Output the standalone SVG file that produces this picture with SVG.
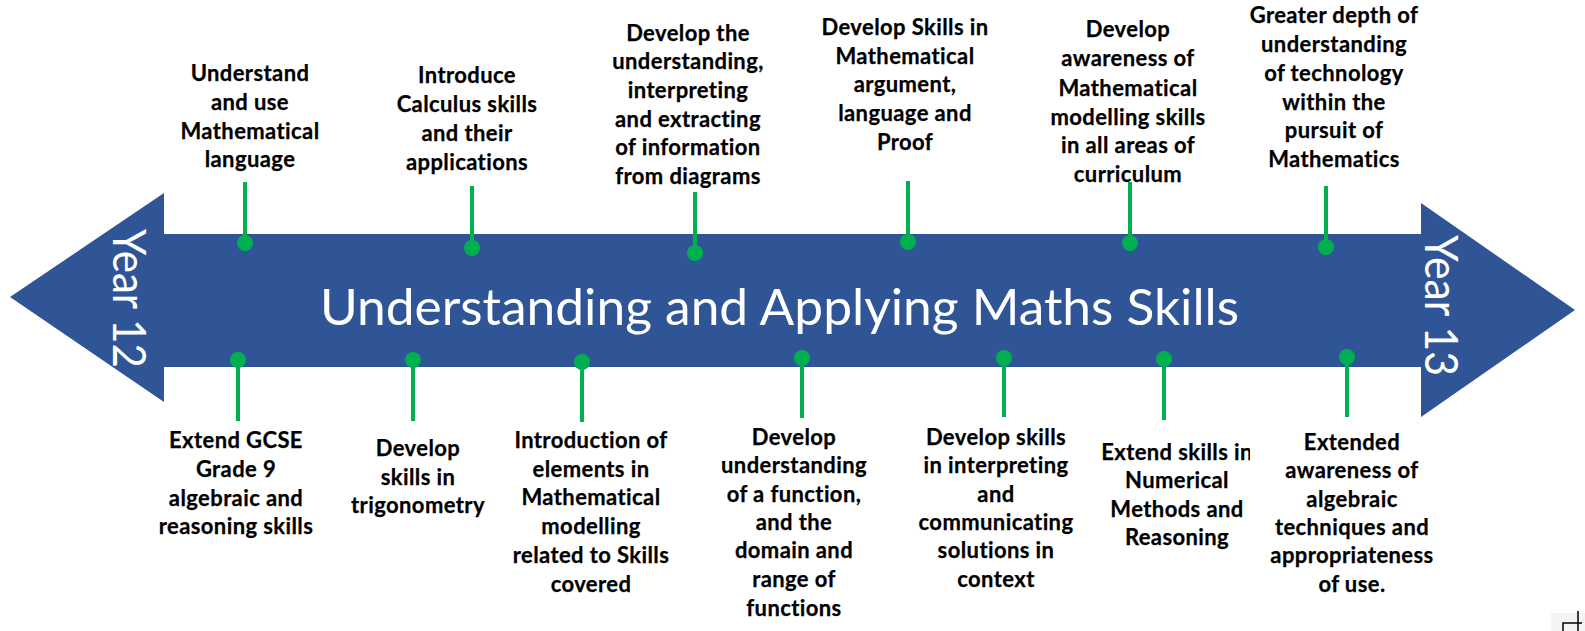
<svg xmlns="http://www.w3.org/2000/svg" width="1585" height="631" viewBox="0 0 1585 631">
<style>
.lbl{font-family:Lato,"Liberation Sans",sans-serif;font-weight:700;font-size:22px;letter-spacing:0.4px;fill:#000;stroke:#000;stroke-width:0.25;text-anchor:middle}
.title{font-family:Lato,"Liberation Sans",sans-serif;font-size:50px;fill:#fff}
.yr{font-family:Lato,"Liberation Sans",sans-serif;font-size:46px;fill:#fff}
.stem{stroke:#00B050;stroke-width:4;fill:none}
.dot{fill:#00B050}
</style>
<defs>
<clipPath id="clip6"><rect x="1090" y="430" width="160" height="130"/></clipPath>
</defs>
<rect width="1585" height="631" fill="#fff"/>
<g id="arrow">
<polygon points="10,297 164,193 164,234 1421,234 1421,203 1575,310 1421,417 1421,367 164,367 164,402" fill="#2F5597"/>
<text class="title" x="320" y="325" textLength="919" lengthAdjust="spacingAndGlyphs">Understanding and Applying Maths Skills</text>
<text class="yr" transform="translate(113,229) rotate(90)" textLength="139" lengthAdjust="spacingAndGlyphs">Year 12</text>
<text class="yr" transform="translate(1425,235) rotate(90)" textLength="141" lengthAdjust="spacingAndGlyphs">Year 13</text>
</g>
<g id="connectors">
<line class="stem" x1="245" y1="182" x2="245" y2="243"/>
<line class="stem" x1="472" y1="186" x2="472" y2="248"/>
<line class="stem" x1="695" y1="192" x2="695" y2="253"/>
<line class="stem" x1="908" y1="181" x2="908" y2="242"/>
<line class="stem" x1="1130" y1="182" x2="1130" y2="243"/>
<line class="stem" x1="1326" y1="186" x2="1326" y2="247"/>
<line class="stem" x1="238" y1="360" x2="238" y2="421"/>
<line class="stem" x1="413" y1="360" x2="413" y2="421"/>
<line class="stem" x1="582" y1="362" x2="582" y2="422"/>
<line class="stem" x1="802" y1="358" x2="802" y2="418"/>
<line class="stem" x1="1004" y1="358" x2="1004" y2="417"/>
<line class="stem" x1="1164" y1="359" x2="1164" y2="420"/>
<line class="stem" x1="1347" y1="357" x2="1347" y2="417"/>
<circle class="dot" cx="245" cy="243" r="8"/>
<circle class="dot" cx="472" cy="248" r="8"/>
<circle class="dot" cx="695" cy="253" r="8"/>
<circle class="dot" cx="908" cy="242" r="8"/>
<circle class="dot" cx="1130" cy="243" r="8"/>
<circle class="dot" cx="1326" cy="247" r="8"/>
<circle class="dot" cx="238" cy="360" r="8"/>
<circle class="dot" cx="413" cy="360" r="8"/>
<circle class="dot" cx="582" cy="362" r="8"/>
<circle class="dot" cx="802" cy="358" r="8"/>
<circle class="dot" cx="1004" cy="358" r="8"/>
<circle class="dot" cx="1164" cy="359" r="8"/>
<circle class="dot" cx="1347" cy="357" r="8"/>
</g>
<g id="top1"><text class="lbl"><tspan x="250" y="81">Understand</tspan><tspan x="250" y="110">and use</tspan><tspan x="250" y="139">Mathematical</tspan><tspan x="250" y="167">language</tspan></text></g>
<g id="top2"><text class="lbl"><tspan x="467" y="83">Introduce</tspan><tspan x="467" y="112">Calculus skills</tspan><tspan x="467" y="141">and their</tspan><tspan x="467" y="170">applications</tspan></text></g>
<g id="top3"><text class="lbl"><tspan x="688" y="41">Develop the</tspan><tspan x="688" y="69">understanding,</tspan><tspan x="688" y="98">interpreting</tspan><tspan x="688" y="127">and extracting</tspan><tspan x="688" y="155">of information</tspan><tspan x="688" y="184">from diagrams</tspan></text></g>
<g id="top4"><text class="lbl"><tspan x="905" y="35">Develop Skills in</tspan><tspan x="905" y="64">Mathematical</tspan><tspan x="905" y="92">argument,</tspan><tspan x="905" y="121">language and</tspan><tspan x="905" y="150">Proof</tspan></text></g>
<g id="top5"><text class="lbl"><tspan x="1128" y="37">Develop</tspan><tspan x="1128" y="66">awareness of</tspan><tspan x="1128" y="96">Mathematical</tspan><tspan x="1128" y="125">modelling skills</tspan><tspan x="1128" y="153">in all areas of</tspan><tspan x="1128" y="182">curriculum</tspan></text></g>
<g id="top6"><text class="lbl"><tspan x="1334" y="23">Greater depth of</tspan><tspan x="1334" y="52">understanding</tspan><tspan x="1334" y="81">of technology</tspan><tspan x="1334" y="110">within the</tspan><tspan x="1334" y="138">pursuit of</tspan><tspan x="1334" y="167">Mathematics</tspan></text></g>
<g id="bot1"><text class="lbl"><tspan x="236" y="448">Extend GCSE</tspan><tspan x="236" y="477">Grade 9</tspan><tspan x="236" y="506">algebraic and</tspan><tspan x="236" y="534">reasoning skills</tspan></text></g>
<g id="bot2"><text class="lbl"><tspan x="418" y="456">Develop</tspan><tspan x="418" y="485">skills in</tspan><tspan x="418" y="513">trigonometry</tspan></text></g>
<g id="bot3"><text class="lbl"><tspan x="591" y="448">Introduction of</tspan><tspan x="591" y="477">elements in</tspan><tspan x="591" y="505">Mathematical</tspan><tspan x="591" y="534">modelling</tspan><tspan x="591" y="563">related to Skills</tspan><tspan x="591" y="592">covered</tspan></text></g>
<g id="bot4"><text class="lbl"><tspan x="794" y="445">Develop</tspan><tspan x="794" y="473">understanding</tspan><tspan x="794" y="502">of a function,</tspan><tspan x="794" y="530">and the</tspan><tspan x="794" y="558">domain and</tspan><tspan x="794" y="587">range of</tspan><tspan x="794" y="616">functions</tspan></text></g>
<g id="bot5"><text class="lbl"><tspan x="996" y="445">Develop skills</tspan><tspan x="996" y="473">in interpreting</tspan><tspan x="996" y="502">and</tspan><tspan x="996" y="530">communicating</tspan><tspan x="996" y="558">solutions in</tspan><tspan x="996" y="587">context</tspan></text></g>
<g id="bot6" clip-path="url(#clip6)"><text class="lbl"><tspan x="1177" y="460">Extend skills in</tspan><tspan x="1177" y="488">Numerical</tspan><tspan x="1177" y="517">Methods and</tspan><tspan x="1177" y="545">Reasoning</tspan></text></g>
<g id="bot7"><text class="lbl"><tspan x="1352" y="450">Extended</tspan><tspan x="1352" y="478">awareness of</tspan><tspan x="1352" y="507">algebraic</tspan><tspan x="1352" y="535">techniques and</tspan><tspan x="1352" y="563">appropriateness</tspan><tspan x="1352" y="592">of use.</tspan></text></g>
<g id="corner-icon">
<rect x="1551" y="613" width="34" height="18" fill="#f4f4f4"/>
<path d="M1563,631 V623 H1582 M1578,611 V631" stroke="#000" stroke-width="1.5" fill="none"/>
</g>
</svg>
